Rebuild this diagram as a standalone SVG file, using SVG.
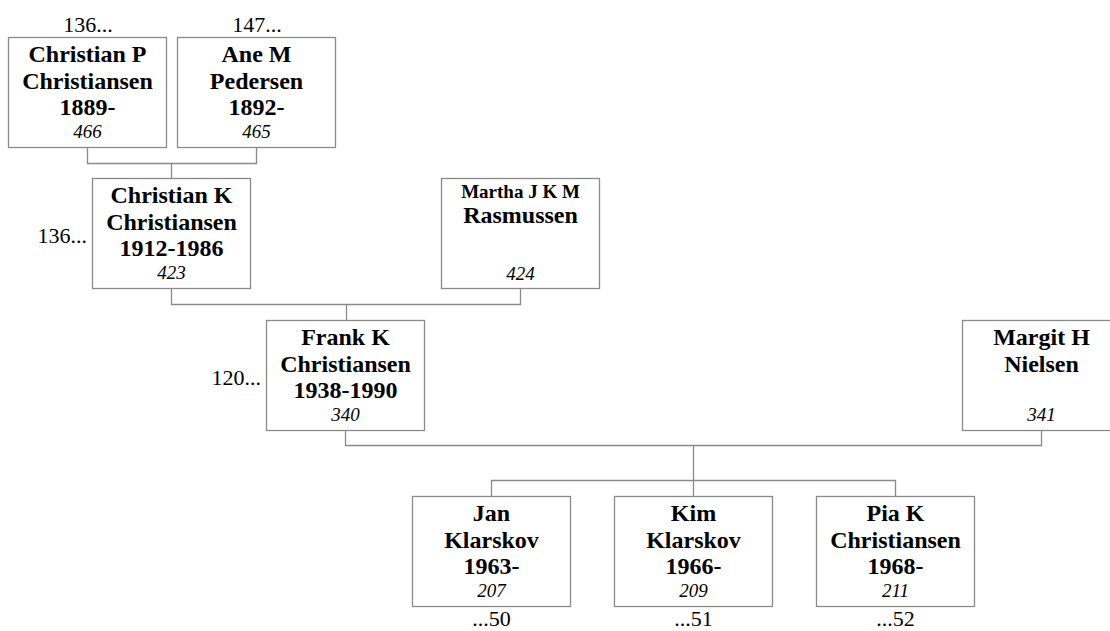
<svg xmlns="http://www.w3.org/2000/svg" width="1110" height="631" viewBox="0 0 1110 631">
<style>
.box{fill:#fff;stroke:#8a8a8a;stroke-width:1.3}
.con{fill:none;stroke:#8a8a8a;stroke-width:1.3}
text{font-family:"Liberation Serif","Times New Roman",serif;fill:#000;text-anchor:middle}
.b{font-weight:bold;font-size:24px}
.bs{font-weight:bold;font-size:19px}
.i{font-style:italic;font-size:19px}
.l{font-size:22px}
</style>
<rect width="1110" height="631" fill="#fff"/>
<g id="connectors">
<path class="con" d="M87.5 147.5V163.5H256.5V147.5M171.5 163.5V178.5"/>
<path class="con" d="M171.5 288.5V304.5H520.5V288.5M346.5 304.5V320.5"/>
<path class="con" d="M345.5 429.5V445.5H1041.5V429.5M693.5 445.5V496.5M491.5 496.5V480.5H895.5V496.5"/>
</g>
<g id="n466">
<rect class="box" x="8.5" y="37.5" width="158" height="110"/>
<text class="l" x="88" y="32">136...</text>
<text class="b" x="87.5" y="62">Christian P</text>
<text class="b" x="87.5" y="88.5">Christiansen</text>
<text class="b" x="87.5" y="115">1889-</text>
<text class="i" x="87.5" y="138">466</text>
</g>
<g id="n465">
<rect class="box" x="177.5" y="37.5" width="158" height="110"/>
<text class="l" x="257" y="32">147...</text>
<text class="b" x="256.5" y="62">Ane M</text>
<text class="b" x="256.5" y="88.5">Pedersen</text>
<text class="b" x="256.5" y="115">1892-</text>
<text class="i" x="256.5" y="138">465</text>
</g>
<g id="n423">
<rect class="box" x="92.5" y="178.5" width="158" height="110"/>
<text class="l" x="87" y="243" style="text-anchor:end">136...</text>
<text class="b" x="171.5" y="203">Christian K</text>
<text class="b" x="171.5" y="229.5">Christiansen</text>
<text class="b" x="171.5" y="256">1912-1986</text>
<text class="i" x="171.5" y="279">423</text>
</g>
<g id="n424">
<rect class="box" x="441.5" y="178.5" width="158" height="110"/>
<text class="bs" x="520.5" y="198">Martha J K M</text>
<text class="b" x="520.5" y="223">Rasmussen</text>
<text class="i" x="520.5" y="280">424</text>
</g>
<g id="n340">
<rect class="box" x="266.5" y="320.5" width="158" height="110"/>
<text class="l" x="261" y="385" style="text-anchor:end">120...</text>
<text class="b" x="345.5" y="345">Frank K</text>
<text class="b" x="345.5" y="371.5">Christiansen</text>
<text class="b" x="345.5" y="398">1938-1990</text>
<text class="i" x="345.5" y="421">340</text>
</g>
<g id="n341">
<rect class="box" x="962.5" y="320.5" width="158" height="110"/>
<text class="b" x="1041.5" y="345">Margit H</text>
<text class="b" x="1041.5" y="371.5">Nielsen</text>
<text class="i" x="1041.5" y="421">341</text>
</g>
<g id="n207">
<rect class="box" x="412.5" y="496.5" width="158" height="110"/>
<text class="b" x="491.5" y="521">Jan</text>
<text class="b" x="491.5" y="547.5">Klarskov</text>
<text class="b" x="491.5" y="574">1963-</text>
<text class="i" x="491.5" y="597">207</text>
<text class="l" x="491.5" y="626">...50</text>
</g>
<g id="n209">
<rect class="box" x="614.5" y="496.5" width="158" height="110"/>
<text class="b" x="693.5" y="521">Kim</text>
<text class="b" x="693.5" y="547.5">Klarskov</text>
<text class="b" x="693.5" y="574">1966-</text>
<text class="i" x="693.5" y="597">209</text>
<text class="l" x="693.5" y="626">...51</text>
</g>
<g id="n211">
<rect class="box" x="816.5" y="496.5" width="158" height="110"/>
<text class="b" x="895.5" y="521">Pia K</text>
<text class="b" x="895.5" y="547.5">Christiansen</text>
<text class="b" x="895.5" y="574">1968-</text>
<text class="i" x="895.5" y="597">211</text>
<text class="l" x="895.5" y="626">...52</text>
</g>
</svg>
